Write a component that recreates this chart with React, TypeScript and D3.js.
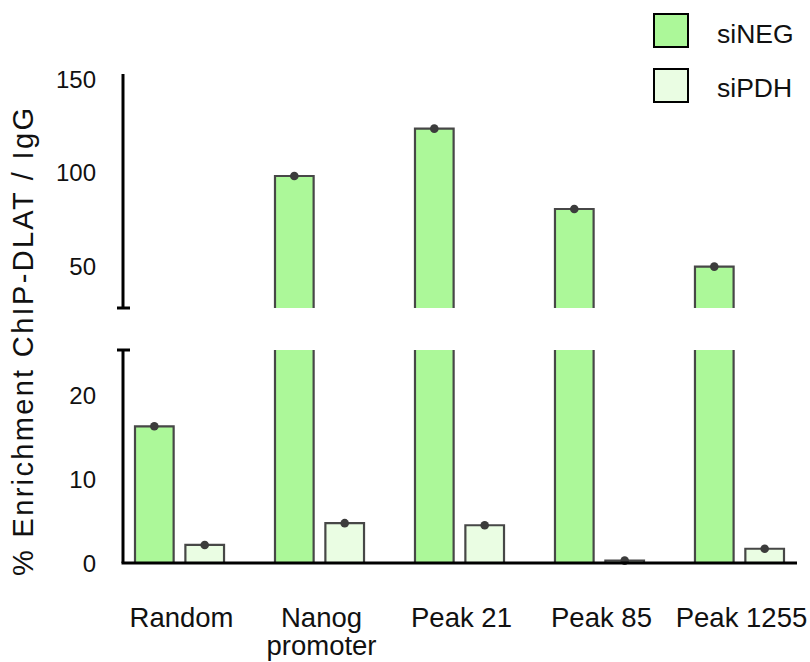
import { useEffect, useRef } from "react";
import * as d3 from "d3";

const categories = ["Random", "Nanog\npromoter", "Peak 21", "Peak 85", "Peak 1255"];
const seriesNames = ["siNEG", "siPDH"];
const siNEG = [16.3, 98.3, 123.7, 80.6, 49.7];
const siPDH = [2.15, 4.75, 4.5, 0.28, 1.7];
const seriesColors = ["#acf899", "#eafde3"];
const lowTicks = [0, 10, 20];
const highTicks = [50, 100, 150];

const App = () => {
  const svgRef = useRef<SVGSVGElement>(null);

  useEffect(() => {
    const svg = d3.select(svgRef.current);
    svg.selectAll("*").remove();
    const font = "'Liberation Sans', Arial, sans-serif";

    // two segments of the broken y axis
    const yLow = d3.scaleLinear().domain([0, 25.4]).range([563, 350]);
    const yHigh = d3.scaleLinear().domain([27.5, 153]).range([308, 74]);
    const axisX = 123;

    const x0 = d3.scaleBand().domain(categories).range([135, 784]).paddingInner(0.364);
    const x1 = d3.scaleBand().domain(seriesNames).range([0, x0.bandwidth()]).paddingInner(0.233);

    const rows = categories.flatMap((c, i) => [
      { cat: c, s: "siNEG", v: siNEG[i], color: seriesColors[0] },
      { cat: c, s: "siPDH", v: siPDH[i], color: seriesColors[1] },
    ]);

    const segments = [yLow, yHigh];
    const bars = svg.append("g");
    rows.forEach((d) => {
      const bx = x0(d.cat)! + x1(d.s)!;
      const bw = x1.bandwidth();
      segments.forEach((y) => {
        const [lo, hi] = y.domain();
        if (d.v <= lo) return;
        const yb = y(lo);
        const yt = y(Math.min(d.v, hi));
        bars.append("rect")
          .attr("x", bx).attr("y", yt)
          .attr("width", bw).attr("height", yb - yt)
          .attr("fill", d.color);
        const pts: [number, number][] = d.v <= hi
          ? [[bx, yb], [bx, yt], [bx + bw, yt], [bx + bw, yb]]
          : [[bx, yb], [bx, yt]];
        bars.append("path")
          .attr("d", d3.line()(pts))
          .attr("fill", "none").attr("stroke", "#474747").attr("stroke-width", 2.2);
        if (d.v > hi) {
          bars.append("line")
            .attr("x1", bx + bw).attr("x2", bx + bw).attr("y1", yb).attr("y2", yt)
            .attr("stroke", "#474747").attr("stroke-width", 2.2);
        }
        if (d.v <= hi) {
          bars.append("circle")
            .attr("cx", bx + bw / 2).attr("cy", y(d.v)).attr("r", 4.3)
            .attr("fill", "#3c3c3c");
        }
      });
    });

    // axes
    const ax = svg.append("g").attr("stroke", "#000").attr("fill", "none");
    ax.append("line").attr("x1", axisX).attr("x2", axisX)
      .attr("y1", yLow(0)).attr("y2", yLow.range()[1]).attr("stroke-width", 3);
    ax.append("line").attr("x1", axisX).attr("x2", axisX)
      .attr("y1", yHigh.range()[0]).attr("y2", yHigh.range()[1]).attr("stroke-width", 3);
    ax.append("line").attr("x1", axisX - 6).attr("x2", axisX + 7)
      .attr("y1", yLow.range()[1]).attr("y2", yLow.range()[1]).attr("stroke-width", 3);
    ax.append("line").attr("x1", axisX - 6).attr("x2", axisX + 7)
      .attr("y1", yHigh.range()[0]).attr("y2", yHigh.range()[0]).attr("stroke-width", 3);
    ax.append("line").attr("x1", axisX - 1.5).attr("x2", 797)
      .attr("y1", yLow(0)).attr("y2", yLow(0)).attr("stroke-width", 3);

    const tickText = (ticks: number[], y: d3.ScaleLinear<number, number>) =>
      svg.append("g").selectAll("text").data(ticks).join("text")
        .attr("x", 96).attr("y", (d) => y(d))
        .attr("dy", "0.36em").attr("text-anchor", "end")
        .attr("font-family", font).attr("font-size", 24).attr("fill", "#111")
        .text((d) => d);
    tickText(lowTicks, yLow);
    tickText(highTicks, yHigh);

    // category labels
    const labels = svg.append("g").attr("font-family", font).attr("font-size", 27.5).attr("fill", "#111");
    categories.forEach((c) => {
      const cx = x0(c)! + x0.bandwidth() / 2 + 2;
      const t = labels.append("text").attr("x", cx).attr("y", 627).attr("text-anchor", "middle");
      c.split("\n").forEach((line, i) => {
        t.append("tspan").attr("x", cx).attr("dy", i === 0 ? 0 : 28).text(line);
      });
    });

    // y axis title
    svg.append("text")
      .attr("transform", `translate(33,342) rotate(-90)`)
      .attr("text-anchor", "middle")
      .attr("font-family", font).attr("font-size", 29).attr("fill", "#111")
      .attr("textLength", 468).attr("lengthAdjust", "spacing")
      .text("% Enrichment ChIP-DLAT / IgG");

    // legend
    const legend = svg.append("g");
    seriesNames.forEach((s, i) => {
      legend.append("rect")
        .attr("x", 654).attr("y", 14 + i * 55).attr("width", 34).attr("height", 33)
        .attr("fill", seriesColors[i]).attr("stroke", "#000").attr("stroke-width", 2);
      legend.append("text")
        .attr("x", 717).attr("y", 43 + i * 54)
        .attr("font-family", font).attr("font-size", 26.5).attr("fill", "#111")
        .text(s);
    });
  }, []);

  return (
    <div style={{ position: "absolute", left: 0, top: 0 }}>
      <svg ref={svgRef} width={810} height={662}></svg>
    </div>
  );
};

export default App;
